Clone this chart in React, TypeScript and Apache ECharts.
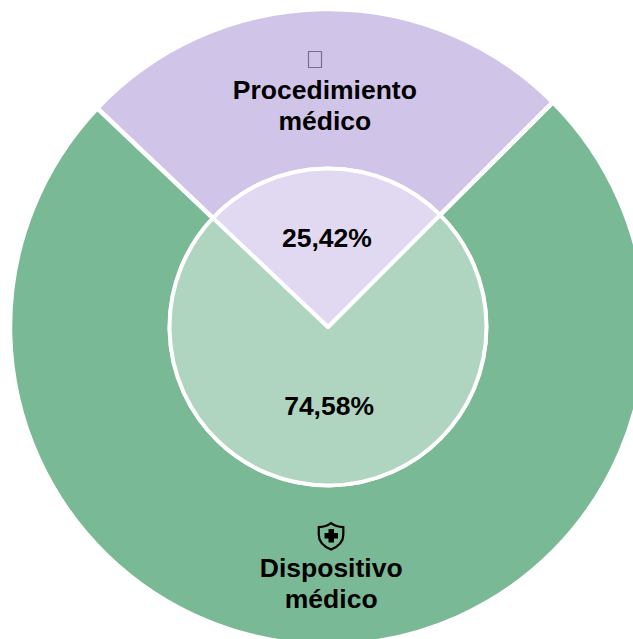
import React, { useEffect, useRef } from "react";
import * as echarts from "echarts";

const categories = ["Dispositivo\nmédico", "Procedimiento\nmédico"];
const values = [74.58, 25.42];
const percentLabels = ["74,58%", "25,42%"];
const outerColors = ["#7AB996", "#D0C4E8"];
const innerColors = ["#AFD5C0", "#E1D9F1"];
const FONT = '"Liberation Sans", Arial, sans-serif';

echarts.graphic.registerShape(
  "shieldOutline",
  echarts.graphic.extendPath(
    "M12 1 C9.5 3 6 4.3 1.5 4.5 L1.5 11 C1.5 17 6.5 21.5 12 24 C17.5 21.5 22.5 17 22.5 11 L22.5 4.5 C18 4.3 14.5 3 12 1 Z",
    {}
  )
);

export default function App() {
  const ref = useRef<HTMLDivElement>(null);
  useEffect(() => {
    document.body.style.margin = "0";
    const chart = echarts.init(ref.current!, null, { renderer: "svg" });
    const center = [328, 327];
    chart.setOption({
      animation: false,
      series: [
        {
          type: "pie",
          silent: true,
          center,
          radius: [158, 318],
          startAngle: 45,
          clockwise: true,
          z: 1,
          itemStyle: { borderColor: "#fff", borderWidth: 4.5 },
          label: {
            position: "inside",
            formatter: (p: any) => categories[p.dataIndex],
            fontFamily: FONT,
            fontSize: 26.5,
            fontWeight: "bold",
            lineHeight: 31,
            color: "#000",
            align: "center",
          },
          labelLine: { show: false },
          data: categories.map((name, i) => ({
            name,
            value: values[i],
            itemStyle: { color: outerColors[i] },
            label: { offset: i === 0 ? [0, 16] : [0, 19] },
          })),
        },
        {
          type: "pie",
          silent: true,
          center,
          radius: [0, 158.5],
          startAngle: 45,
          clockwise: true,
          z: 2,
          itemStyle: { borderColor: "#fff", borderWidth: 4 },
          label: {
            position: "inside",
            formatter: (p: any) => percentLabels[p.dataIndex],
            fontFamily: FONT,
            fontSize: 26.5,
            fontWeight: "bold",
            color: "#000",
          },
          labelLine: { show: false },
          data: categories.map((name, i) => ({
            name,
            value: values[i],
            itemStyle: { color: innerColors[i] },
            label: { offset: i === 0 ? [0, -3] : [0, -7] },
          })),
        },
      ],
      graphic: [
        {
          type: "rect",
          z: 10,
          shape: { x: 308.5, y: 51.5, width: 13, height: 16 },
          style: { fill: "none", stroke: "#77708C", lineWidth: 1.2 },
        },
        {
          type: "shieldOutline",
          z: 10,
          x: 317,
          y: 522,
          scaleX: 1.17,
          scaleY: 1.15,
          style: { fill: "none", stroke: "#000", lineWidth: 1.9 },
        },
        {
          type: "rect",
          z: 10,
          shape: { x: 328.5, y: 529, width: 5.5, height: 13.5 },
          style: { fill: "#000" },
        },
        {
          type: "rect",
          z: 10,
          shape: { x: 324.5, y: 533, width: 13.5, height: 5.5 },
          style: { fill: "#000" },
        },
      ],
    });
    return () => chart.dispose();
  }, []);
  return <div ref={ref} style={{ width: 633, height: 639, position: "absolute", left: 0, top: 0, overflow: "hidden" }} />;
}
